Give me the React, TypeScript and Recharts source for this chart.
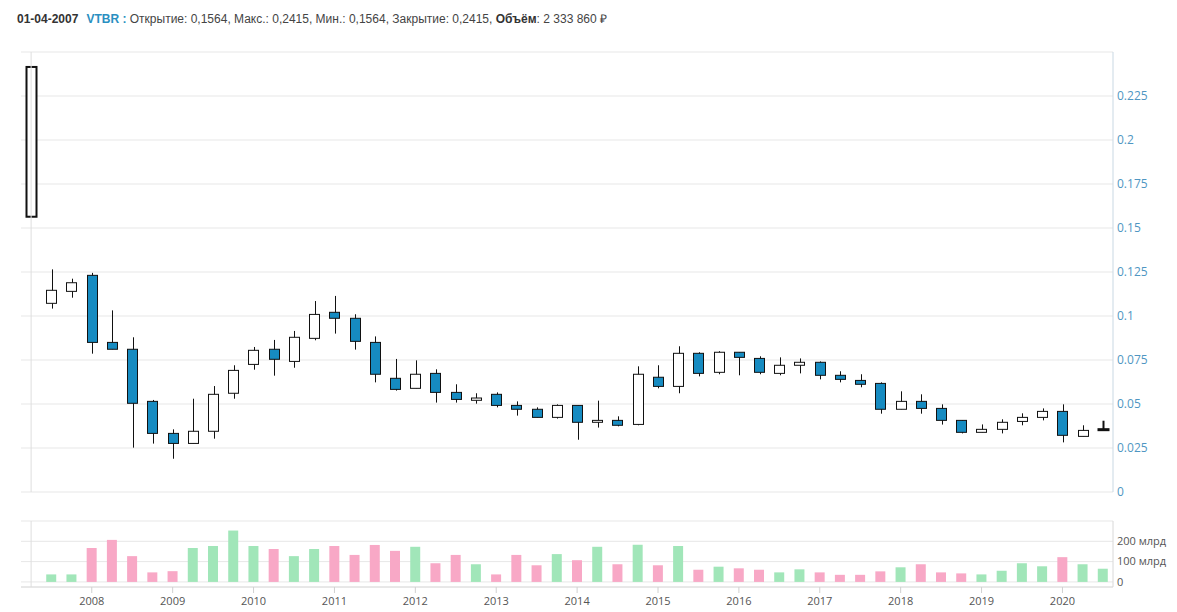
import React from 'react';
import { ComposedChart, Bar, XAxis, YAxis, CartesianGrid, ReferenceLine, Cell } from 'recharts';

// quarterly candles, VTBR
const QUARTERS = [
  '01-04-2007', '01-07-2007', '01-10-2007',
  '01-01-2008', '01-04-2008', '01-07-2008', '01-10-2008',
  '01-01-2009', '01-04-2009', '01-07-2009', '01-10-2009',
  '01-01-2010', '01-04-2010', '01-07-2010', '01-10-2010',
  '01-01-2011', '01-04-2011', '01-07-2011', '01-10-2011',
  '01-01-2012', '01-04-2012', '01-07-2012', '01-10-2012',
  '01-01-2013', '01-04-2013', '01-07-2013', '01-10-2013',
  '01-01-2014', '01-04-2014', '01-07-2014', '01-10-2014',
  '01-01-2015', '01-04-2015', '01-07-2015', '01-10-2015',
  '01-01-2016', '01-04-2016', '01-07-2016', '01-10-2016',
  '01-01-2017', '01-04-2017', '01-07-2017', '01-10-2017',
  '01-01-2018', '01-04-2018', '01-07-2018', '01-10-2018',
  '01-01-2019', '01-04-2019', '01-07-2019', '01-10-2019',
  '01-01-2020', '01-04-2020', '01-07-2020',
];

const OPEN = [
  0.1564, 0.1072, 0.114,
  0.1231, 0.085, 0.0811, 0.0515,
  0.0333, 0.0276, 0.0345, 0.0561,
  0.0725, 0.0811, 0.0742, 0.0873,
  0.1021, 0.0987, 0.085, 0.0646,
  0.0589, 0.0674, 0.0566, 0.0521,
  0.0555, 0.0492, 0.047, 0.0424,
  0.0492, 0.0396, 0.0407, 0.0384,
  0.0652, 0.06, 0.0788, 0.068,
  0.0794, 0.0759, 0.0674, 0.072,
  0.0737, 0.0663, 0.0634, 0.0617,
  0.047, 0.0515, 0.0475, 0.0407,
  0.0339, 0.0356, 0.0401, 0.0424,
  0.0458, 0.0316, 0.0355,
];

const HIGH = [
  0.2415, 0.1265, 0.1212,
  0.1245, 0.1032, 0.0879, 0.0523,
  0.0356, 0.053, 0.0602, 0.072,
  0.0824, 0.0864, 0.0915, 0.1085,
  0.1114, 0.101, 0.0884, 0.0756,
  0.0748, 0.0697, 0.0612, 0.0561,
  0.0566, 0.0515, 0.0481, 0.0498,
  0.0492, 0.0519, 0.043, 0.0714,
  0.072, 0.0828, 0.0794, 0.08,
  0.0794, 0.0771, 0.0765, 0.0759,
  0.0742, 0.0686, 0.0669, 0.0623,
  0.0572, 0.0555, 0.0498, 0.0407,
  0.0384, 0.0413, 0.0447, 0.0475,
  0.0498, 0.0379, 0.0405,
];

const LOW = [
  0.1564, 0.1042, 0.1104,
  0.0786, 0.0811, 0.0252, 0.0275,
  0.0189, 0.0276, 0.0303, 0.053,
  0.0695, 0.0661, 0.0706, 0.0862,
  0.09, 0.0809, 0.0623, 0.0576,
  0.0589, 0.0508, 0.0508, 0.0502,
  0.0481, 0.0434, 0.0424, 0.0417,
  0.0297, 0.0366, 0.0373, 0.0379,
  0.0589, 0.0561, 0.0657, 0.0669,
  0.0663, 0.0669, 0.0663, 0.0674,
  0.064, 0.0623, 0.0595, 0.0445,
  0.047, 0.0445, 0.0383, 0.0333,
  0.0339, 0.0333, 0.0379, 0.0407,
  0.0282, 0.0316, 0.0355,
];

const CLOSE = [
  0.2415, 0.1146, 0.1189,
  0.085, 0.0811, 0.0504, 0.0333,
  0.0276, 0.0345, 0.0555, 0.0691,
  0.0805, 0.0754, 0.0879, 0.1009,
  0.0987, 0.0856, 0.0669, 0.0583,
  0.0669, 0.0566, 0.0526, 0.0534,
  0.0492, 0.047, 0.0424, 0.0492,
  0.0396, 0.0407, 0.0379, 0.0669,
  0.06, 0.0788, 0.0674, 0.0794,
  0.0765, 0.068, 0.072, 0.0737,
  0.0663, 0.064, 0.0612, 0.047,
  0.0515, 0.0475, 0.0407, 0.0339,
  0.0356, 0.0396, 0.0424, 0.0458,
  0.0322, 0.035, 0.0357,
];

// volume, млрд ₽
const VOLUME = [
  0.0023, 37, 37,
  167, 207, 127, 47,
  53, 167, 177, 253,
  177, 162, 127, 162,
  177, 133, 182, 153,
  173, 92, 133, 87,
  37, 133, 82, 137,
  107, 173, 87, 183,
  82, 177, 60, 75,
  67, 60, 47, 62,
  47, 35, 35, 52,
  72, 87, 47, 42,
  37, 55, 92, 77,
  122, 87, 65,
];

const YEAR_TICKS = [
  '01-01-2008', '01-01-2009', '01-01-2010', '01-01-2011', '01-01-2012', '01-01-2013', '01-01-2014',
  '01-01-2015', '01-01-2016', '01-01-2017', '01-01-2018', '01-01-2019', '01-01-2020',
];
const PRICE_TICKS = [0, 0.025, 0.05, 0.075, 0.1, 0.125, 0.15, 0.175, 0.2, 0.225, 0.25];
const VOLUME_TICKS = [0, 100, 200, 300];

const HEADER_TICKER = 'VTBR';
const HEADER_VOLUME = 2333860;

const data = QUARTERS.map((q, i) => ({
  q,
  open: OPEN[i],
  high: HIGH[i],
  low: LOW[i],
  close: CLOSE[i],
  range: [LOW[i], HIGH[i]],
  volume: VOLUME[i],
}));

const BLUE = '#168bc1';
const GREEN = '#a1e6b9';
const PINK = '#f8a8c6';
const AXIS_FONT = '"Open Sans", "DejaVu Sans", sans-serif';

const Candle = (props: any) => {
  const { x, y, width, height, payload, index } = props;
  if (!payload) return null;
  const { open, close, high, low } = payload;
  const top = Math.min(y, y + height);
  const h = Math.abs(height);
  const k = h / (high - low);
  const yOf = (v: number) => top + (high - v) * k;
  const cx = Math.round(x + width / 2) + 0.5;
  const up = close >= open;
  const bTop = yOf(Math.max(open, close));
  const bBot = yOf(Math.min(open, close));
  const left = Math.round(x) + 0.5;
  const flat = bBot - bTop < 1.5;
  const sw = index === 0 || flat ? 2 : 1;
  return (
    <g>
      <line x1={cx} x2={cx} y1={top} y2={top + h} stroke="#111" strokeWidth={flat ? 2 : 1} />
      <rect
        x={left}
        y={bTop}
        width={width - 1}
        height={Math.max(bBot - bTop, 1)}
        fill={up ? '#fff' : BLUE}
        stroke="#111"
        strokeWidth={sw}
      />
    </g>
  );
};

const fmtRu = (v: number) => v.toFixed(4).replace('.', ',');

const priceTick = (v: number) => (v === 0.25 ? '' : String(parseFloat(v.toFixed(3))));
const volumeTick = (v: number) => (v === 300 ? '' : v === 0 ? '0' : `${v} млрд`);

const VolumeTick = (props: any) => {
  const { x, y, payload } = props;
  return (
    <text x={x} y={y} dy="0.35em" textAnchor="start" fill="#555" fontSize={11} fontFamily={AXIS_FONT}>
      {volumeTick(payload.value)}
    </text>
  );
};

const App: React.FC = () => {
  const first = data[0];
  const volText = HEADER_VOLUME.toLocaleString('ru-RU').replace(/\u00a0|\u202f/g, ' ');
  return (
    <div style={{ position: 'absolute', left: 0, top: 0, width: 1177, height: 612, background: '#fff', overflow: 'hidden' }}>
      <div
        style={{
          position: 'absolute',
          left: 17,
          top: 10,
          fontFamily: '"Liberation Sans", Arial, sans-serif',
          fontSize: 12,
          color: '#444',
          whiteSpace: 'nowrap',
        }}
      >
        <b style={{ color: '#333' }}>{first.q}</b>
        <b style={{ color: '#2a8fc1', marginLeft: 8 }}>{HEADER_TICKER} :</b>{' '}
        Открытие: {fmtRu(first.open)}, Макс.: {fmtRu(first.high)}, Мин.: {fmtRu(first.low)}, Закрытие:{' '}
        {fmtRu(first.close)}, <b style={{ color: '#333' }}>Объём</b>: {volText} ₽
      </div>

      <div style={{ position: 'absolute', left: 0, top: 0 }}>
        <ComposedChart width={1177} height={500} data={data} margin={{ top: 52, right: 4, bottom: 8, left: 21 }} barCategoryGap={0}>
          <CartesianGrid vertical={false} stroke="#e7e7e7" />
          <XAxis dataKey="q" hide />
          <YAxis
            orientation="right"
            width={60}
            domain={[0, 0.25]}
            ticks={PRICE_TICKS}
            interval={0}
            tickFormatter={priceTick}
            axisLine={{ stroke: '#c9d8e3' }}
            tickLine={false}
            tickSize={0}
            tickMargin={4}
            tick={{ fill: '#4f96c2', fontSize: 12, fontFamily: AXIS_FONT }}
          />
          <ReferenceLine x={QUARTERS[0]} stroke="#dedede" />
          <Bar dataKey="range" barSize={11} shape={<Candle />} isAnimationActive={false} />
        </ComposedChart>
      </div>

      <div style={{ position: 'absolute', left: 0, top: 505 }}>
        <ComposedChart width={1177} height={107} data={data} margin={{ top: 16, right: 4, bottom: 0, left: 21 }} barCategoryGap={0}>
          <CartesianGrid vertical={false} stroke="#e7e7e7" />
          <XAxis
            dataKey="q"
            ticks={YEAR_TICKS}
            interval={0}
            tickFormatter={(v: string) => v.slice(6)}
            height={25}
            axisLine={{ stroke: '#dcdcdc' }}
            tickLine={{ stroke: '#d0d0d0' }}
            tickSize={6}
            tickMargin={4}
            tick={{ fill: '#555', fontSize: 11, fontFamily: AXIS_FONT }}
          />
          <YAxis
            orientation="right"
            width={60}
            domain={[-25, 300]}
            ticks={VOLUME_TICKS}
            interval={0}
            axisLine={{ stroke: '#d8d8d8' }}
            tickLine={false}
            tickSize={0}
            tickMargin={4}
            tick={<VolumeTick />}
          />
          <ReferenceLine x={QUARTERS[0]} stroke="#dedede" />
          <Bar dataKey="volume" barSize={10} isAnimationActive={false}>
            {data.map((d, i) => (
              <Cell key={`v-${i}`} fill={d.close >= d.open ? GREEN : PINK} />
            ))}
          </Bar>
        </ComposedChart>
      </div>
    </div>
  );
};

export default App;
